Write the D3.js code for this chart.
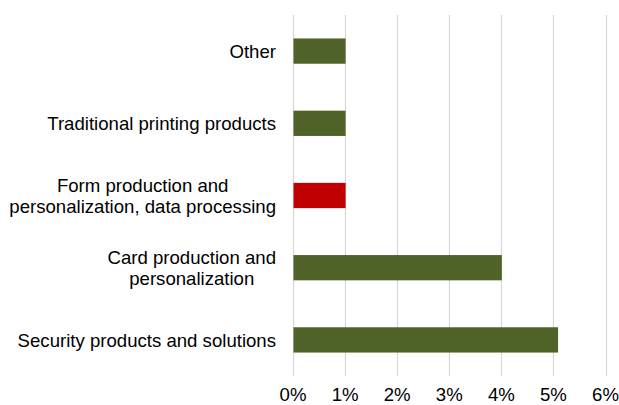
<!DOCTYPE html>
<html>
<head>
<meta charset="utf-8">
<script src="https://cdn.jsdelivr.net/npm/d3@7"></script>
<style>
  body { margin: 0; background: #fff; }
  svg { display: block; }
</style>
</head>
<body>
<div id="chart"></div>
<script>
  // data, top to bottom
  var categories = [
    ["Other"],
    ["Traditional printing products"],
    ["Form production and", "personalization, data processing"],
    ["Card production and", "personalization"],
    ["Security products and solutions"]
  ];
  var values = [1, 1, 1, 4, 5.08];
  var barColors = ["#4F6228", "#4F6228", "#C00000", "#4F6228", "#4F6228"];
  var tickValues = [0, 1, 2, 3, 4, 5, 6];

  var width = 619, height = 405;
  var margin = { top: 15, right: 13.5, bottom: 29, left: 293 };
  var fontFamily = "'Liberation Sans', Arial, sans-serif";
  var fontSize = 18.6;
  var lineH = 21.2;

  var svg = d3.select("#chart")
    .append("svg")
    .attr("width", width)
    .attr("height", height);

  var x = d3.scaleLinear()
    .domain([0, 6])
    .range([margin.left, width - margin.right]);

  var y = d3.scaleBand()
    .domain(d3.range(categories.length))
    .range([margin.top, height - margin.bottom])
    .paddingInner(0.65)
    .paddingOuter(0.325);

  // gridlines
  svg.append("g")
    .selectAll("line")
    .data(tickValues)
    .enter()
    .append("line")
    .attr("x1", function (d) { return Math.round(x(d)) + 0.5; })
    .attr("x2", function (d) { return Math.round(x(d)) + 0.5; })
    .attr("y1", margin.top)
    .attr("y2", height - margin.bottom)
    .attr("stroke", "#d9d9d9")
    .attr("stroke-width", 1.3);

  // bars
  svg.append("g")
    .selectAll("rect")
    .data(values)
    .enter()
    .append("rect")
    .attr("x", x(0) + 0.5)
    .attr("y", function (d, i) { return y(i); })
    .attr("width", function (d) { return x(d) - x(0); })
    .attr("height", y.bandwidth())
    .attr("fill", function (d, i) { return barColors[i]; });

  // category labels, right-aligned; wrapped ones centred on their longest line
  var labels = svg.append("g")
    .selectAll("text")
    .data(categories)
    .enter()
    .append("text")
    .attr("text-anchor", "end")
    .attr("font-family", fontFamily)
    .attr("font-size", fontSize)
    .attr("fill", "#000")
    .attr("transform", function (d, i) {
      var cy = y(i) + y.bandwidth() / 2;
      var first = cy - (d.length - 1) * lineH / 2 + 6.7;
      return "translate(276," + first + ")";
    });

  labels.each(function (d) {
    var t = d3.select(this);
    d.forEach(function (line, j) {
      t.append("tspan")
        .attr("x", 0)
        .attr("y", j * lineH)
        .text(line);
    });
    if (d.length > 1) {
      var spans = t.selectAll("tspan").nodes();
      var maxW = d3.max(spans, function (n) { return n.getComputedTextLength(); });
      t.attr("text-anchor", "middle");
      t.selectAll("tspan").attr("x", -maxW / 2);
    }
  });

  // x tick labels
  svg.append("g")
    .selectAll("text")
    .data(tickValues)
    .enter()
    .append("text")
    .attr("x", function (d) { return x(d); })
    .attr("y", 401)
    .attr("text-anchor", "middle")
    .attr("font-family", fontFamily)
    .attr("font-size", fontSize)
    .attr("fill", "#000")
    .text(function (d) { return d + "%"; });
</script>
</body>
</html>
